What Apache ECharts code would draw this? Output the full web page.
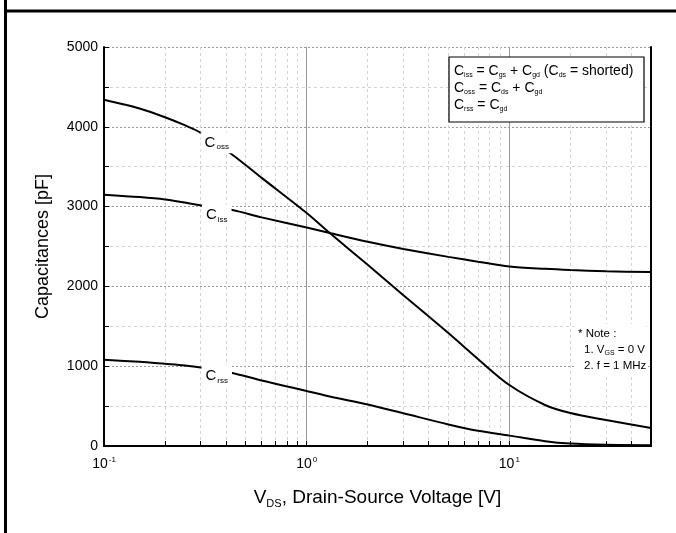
<!DOCTYPE html>
<html>
<head>
<meta charset="utf-8">
<script src="https://cdn.jsdelivr.net/npm/echarts@6/dist/echarts.min.js"></script>
<style>
  html, body { margin: 0; padding: 0; background: #fff; }
  #chart { width: 676px; height: 533px; }
</style>
</head>
<body>
<div id="chart"></div>
<script>
// Drain-source voltage sample points [V]
const vds  = [0.1, 0.15, 0.2, 0.25, 0.3, 0.43, 0.6, 1, 1.3, 2, 3, 5, 7, 10, 15, 20, 30, 50];
// Capacitances [pF]
const ciss = [3150, 3120, 3090, 3050, 3015, 2957, 2865, 2737, 2669, 2560, 2470, 2370, 2310, 2250, 2220, 2205, 2190, 2180];
const coss = [4340, 4230, 4120, 4020, 3925, 3650, 3360, 2920, 2669, 2270, 1890, 1415, 1090, 764, 514, 413, 325, 225];
const crss = [1080, 1055, 1030, 1010, 985, 915, 820, 690, 620, 520, 410, 270, 190, 130, 60, 30, 15, 10];

// In-plot curve tags (subscript text, anchor voltage, anchor capacitance)
const tagSubs   = ['oss', 'iss', 'rss'];
const tagVds    = [0.36, 0.36, 0.36];
const tagValues = [3800, 2895, 877];

// Axis ticks
const xMinorTicks = [0.2, 0.3, 0.4, 0.5, 0.6, 0.7, 0.8, 0.9, 2, 3, 4, 5, 6, 7, 8, 9, 20, 30, 40];
const xMin = 0.1, xMax = 50;
const yMin = 0, yMax = 5000, yStep = 1000;

const FONT = 'Liberation Sans';

const chart = echarts.init(document.getElementById('chart'), null, { renderer: 'canvas' });

function pairs(ys) { return vds.map((x, i) => [x, ys[i]]); }

const curveStyle = { color: '#000', width: 2 };

function curve(name, ys) {
  return {
    name, type: 'line', xAxisIndex: 0, yAxisIndex: 0,
    data: pairs(ys), smooth: 0.3, showSymbol: false, silent: true,
    lineStyle: curveStyle, z: 3
  };
}

const tagSeries = {
  type: 'scatter', xAxisIndex: 0, yAxisIndex: 0, symbolSize: 0, silent: true, z: 5,
  itemStyle: { opacity: 1, color: '#000' },
  data: tagSubs.map((s, i) => ({
    value: [tagVds[i], tagValues[i]],
    label: {
      show: true, position: 'inside', color: '#000', opacity: 1,
      formatter: '{c|C}{s|' + s + '}',
      backgroundColor: '#fff', padding: [2, 4, 2, 4],
      rich: {
        c: { fontFamily: FONT, fontSize: 15, color: '#000' },
        s: { fontFamily: FONT, fontSize: 8, color: '#000', padding: [9, 0, 0, 1] }
      }
    }
  }))
};

function powLabel(v) {
  const e = Math.log10(v);
  const r = Math.round(e);
  if (Math.abs(e - r) > 1e-6) return '';
  return '{b|10}{p|' + r + '}';
}

function richText(x, y, text, size, subSize) {
  return {
    type: 'text', x, y, z: 20,
    style: {
      text, fill: '#000', font: size + 'px "' + FONT + '"',
      verticalAlign: 'middle',
      rich: { s: { fontFamily: FONT, fontSize: subSize, fill: '#000', padding: [size * 0.55, 0, 0, 0] } }
    }
  };
}

chart.setOption({
  animation: false,
  backgroundColor: '#fff',
  textStyle: { fontFamily: FONT },
  grid: { left: 104, right: 25, top: 47, bottom: 87, show: false },
  xAxis: [
    {
      type: 'log', logBase: 10, min: xMin, max: xMax, position: 'bottom',
      axisLine: { show: true, onZero: false, lineStyle: { color: '#000', width: 2 } },
      axisTick: { show: true, inside: true, length: 5, lineStyle: { color: '#000' } },
      axisLabel: {
        formatter: powLabel, margin: 10, color: '#000',
        rich: {
          b: { fontFamily: FONT, fontSize: 14, color: '#000' },
          p: { fontFamily: FONT, fontSize: 8, color: '#000', padding: [0, 0, 9, 1] }
        }
      },
      splitLine: { show: true, lineStyle: { color: '#999', width: 1, type: 'solid' } },
      name: 'V{s|DS}, Drain-Source Voltage [V]', nameLocation: 'middle', nameGap: 40,
      nameTextStyle: {
        fontFamily: FONT, fontSize: 19, color: '#000',
        rich: { s: { fontFamily: FONT, fontSize: 11, color: '#000', padding: [12, 0, 0, 0] } }
      }
    },
    {
      type: 'log', logBase: 10, min: xMin, max: xMax, position: 'bottom',
      axisLine: { show: false },
      axisTick: { show: true, inside: true, length: 5, customValues: xMinorTicks, lineStyle: { color: '#000' } },
      axisLabel: { show: false },
      splitLine: { show: true, lineStyle: { color: '#d4d4d4', width: 1, type: [3, 3] } }
    },
    {
      type: 'log', logBase: 10, min: xMin, max: xMax, position: 'top',
      axisLine: { show: true, lineStyle: { color: '#000', width: 2 } },
      axisTick: { show: false }, axisLabel: { show: false }, splitLine: { show: false }
    }
  ],
  yAxis: [
    {
      type: 'value', min: yMin, max: yMax, interval: yStep, position: 'left',
      axisLine: { show: true, lineStyle: { color: '#000', width: 2 } },
      axisTick: { show: true, inside: true, length: 5, lineStyle: { color: '#000' } },
      minorTick: { show: true, splitNumber: 2, length: 5, lineStyle: { color: '#000' } },
      axisLabel: { fontFamily: FONT, fontSize: 14, color: '#000', margin: 6, formatter: v => String(v) },
      splitLine: { show: true, lineStyle: { color: '#999', width: 1, type: [2, 2] } },
      minorSplitLine: { show: true, lineStyle: { color: '#d4d4d4', width: 1, type: [3, 3] } },
      name: 'Capacitances [pF]', nameLocation: 'middle', nameGap: 52, nameRotate: 90,
      nameTextStyle: { fontFamily: FONT, fontSize: 18, color: '#000' }
    },
    {
      type: 'value', min: yMin, max: yMax, interval: yStep, position: 'right',
      axisLine: { show: true, lineStyle: { color: '#000', width: 2 } },
      axisTick: { show: false }, axisLabel: { show: false }, splitLine: { show: false }
    }
  ],
  series: [
    curve('Coss', coss),
    curve('Ciss', ciss),
    curve('Crss', crss),
    tagSeries
  ],
  graphic: [
    // outer frame
    { type: 'line', shape: { x1: 5.5, y1: 0, x2: 5.5, y2: 533 }, style: { stroke: '#000', lineWidth: 3 }, z: 30 },
    { type: 'line', shape: { x1: 5.5, y1: 11, x2: 676, y2: 11 }, style: { stroke: '#000', lineWidth: 3 }, z: 30 },
    // definitions box
    { type: 'rect', shape: { x: 449, y: 57, width: 195, height: 65 }, style: { fill: '#fff', stroke: '#000', lineWidth: 1.2 }, z: 15 },
    richText(454, 71, 'C{s|iss} = C{s|gs} + C{s|gd} (C{s|ds} = shorted)', 14, 7),
    richText(454, 88, 'C{s|oss} = C{s|ds} + C{s|gd}', 14, 7),
    richText(454, 105, 'C{s|rss} = C{s|gd}', 14, 7),
    // test conditions
    { type: 'rect', shape: { x: 574, y: 324, width: 72, height: 50 }, style: { fill: '#fff' }, z: 15 },
    richText(578, 334, '* Note :', 11.5, 7),
    richText(584, 350, '1. V{s|GS} = 0 V', 11.5, 7),
    richText(584, 366, '2. f = 1 MHz', 11.5, 7)
  ]
});
</script>
</body>
</html>
